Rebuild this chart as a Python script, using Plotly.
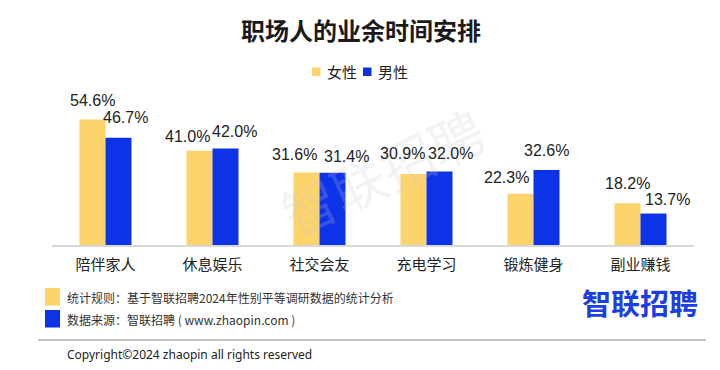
import plotly.graph_objects as go

# ---- data ----
categories = ["陪伴家人", "休息娱乐", "社交会友", "充电学习", "锻炼健身", "副业赚钱"]
female = [54.6, 41.0, 31.6, 30.9, 22.3, 18.2]
male = [46.7, 42.0, 31.4, 32.0, 32.6, 13.7]
series_names = ["女性", "男性"]

# ---- style ----
OFF = 8  # page body margin of the browser
W, H = 720 - OFF, 370 - OFF
L, R, T, B = 52 - OFF, 26, 100 - OFF, 125
PW, PH = W - L - R, H - T - B
PX_PER_UNIT = 2.297
YELLOW = "#FDD46B"
BLUE = "#0D33E8"
CJK = "Noto Sans CJK SC"
LAT = "Liberation Sans, Arial, sans-serif"

# label nudges (pixels) relative to bar centres
bar_half = 12.85
f_dx = [0, -12.5, -11.8, -11, -13.8, 0]
m_dx = [7.4, 9.6, 14.5, 11, 0, 14]
f_dy = [19.3, 14.3, 17.7, 20.3, 16.7, 19.3]
m_dy = [20, 16.7, 16.7, 18.3, 19.3, 14.3]


def px(x):
    return (x - OFF - L) / PW


def py(y):
    return (H - B - (y - OFF)) / PH


fig = go.Figure()
fig.add_bar(x=categories, y=female, name=series_names[0], marker_color=YELLOW,
            marker_line_width=0, showlegend=False)
fig.add_bar(x=categories, y=male, name=series_names[1], marker_color=BLUE,
            marker_line_width=0, showlegend=False)

ann = []
# watermark (drawn first, under the other texts)
ann.append(dict(x=px(382), y=py(170), xref="paper", yref="paper", showarrow=False,
                text="智联招聘", textangle=-25, xanchor="center", yanchor="middle",
                font=dict(family=CJK, size=54, color="rgba(200,200,200,0.22)")))
for i, c in enumerate(categories):
    ann.append(dict(x=c, y=female[i], xref="x", yref="y", text=f"{female[i]:.1f}%",
                    showarrow=False, xanchor="center", yanchor="middle",
                    xshift=-bar_half + f_dx[i], yshift=f_dy[i],
                    font=dict(family=LAT, size=16, color="#222")))
    ann.append(dict(x=c, y=male[i], xref="x", yref="y", text=f"{male[i]:.1f}%",
                    showarrow=False, xanchor="center", yanchor="middle",
                    xshift=bar_half + m_dx[i], yshift=m_dy[i],
                    font=dict(family=LAT, size=16, color="#222")))

# title
ann.append(dict(x=px(361), y=py(30), xref="paper", yref="paper", showarrow=False,
                text="<b>职场人的业余时间安排</b>", xanchor="center", yanchor="middle",
                font=dict(family=CJK, size=24, color="#1a1a1a")))
# legend texts
ann.append(dict(x=px(325), y=py(71.5), xref="paper", yref="paper", showarrow=False,
                text=series_names[0], xanchor="left", yanchor="middle",
                font=dict(family=CJK, size=15, color="#222")))
ann.append(dict(x=px(376), y=py(71.5), xref="paper", yref="paper", showarrow=False,
                text=series_names[1], xanchor="left", yanchor="middle",
                font=dict(family=CJK, size=15, color="#222")))
# footer
ann.append(dict(x=px(65), y=py(297), xref="paper", yref="paper", showarrow=False,
                text="统计规则：基于智联招聘2024年性别平等调研数据的统计分析",
                xanchor="left", yanchor="middle",
                font=dict(family=CJK, size=12, color="#333")))
ann.append(dict(x=px(65), y=py(319.5), xref="paper", yref="paper", showarrow=False,
                text="数据来源：智联招聘 ( www.zhaopin.com )",
                xanchor="left", yanchor="middle",
                font=dict(family=CJK, size=12, color="#333")))
ann.append(dict(x=px(640), y=py(301.5), xref="paper", yref="paper", showarrow=False,
                text="<b>智联招聘</b>", xanchor="center", yanchor="middle",
                font=dict(family=CJK, size=29, color="#1B3FE4")))
ann.append(dict(x=px(65), y=py(354), xref="paper", yref="paper", showarrow=False,
                text="Copyright©2024 zhaopin all rights reserved",
                xanchor="left", yanchor="middle",
                font=dict(family="Noto Sans, sans-serif", size=12, color="#222")))

shapes = [
    dict(type="rect", xref="paper", yref="paper", x0=px(312), x1=px(320.5),
         y0=py(76), y1=py(67.5), fillcolor=YELLOW, line_width=0),
    dict(type="rect", xref="paper", yref="paper", x0=px(363), x1=px(371.5),
         y0=py(76), y1=py(67.5), fillcolor=BLUE, line_width=0),
    dict(type="rect", xref="paper", yref="paper", x0=px(45), x1=px(60),
         y0=py(305.5), y1=py(288), fillcolor=YELLOW, line_width=0),
    dict(type="rect", xref="paper", yref="paper", x0=px(45), x1=px(60),
         y0=py(327.5), y1=py(310), fillcolor=BLUE, line_width=0),
    dict(type="line", xref="paper", yref="paper", x0=px(38), x1=px(706),
         y0=py(340), y1=py(340), line=dict(color="#8a8a8a", width=1)),
]

fig.update_layout(
    width=W, height=H,
    margin=dict(l=L, r=R, t=T, b=B),
    paper_bgcolor="white", plot_bgcolor="white",
    barmode="group", bargap=0.514, bargroupgap=0,
    annotations=ann, shapes=shapes,
    showlegend=False,
)
fig.update_xaxes(showline=True, linecolor="#d9d9d9", linewidth=1.5, ticks="",
                 showgrid=False, ticklabelstandoff=5,
                 tickfont=dict(family=CJK, size=15, color="#222"))
fig.update_yaxes(range=[0, PH / PX_PER_UNIT], visible=False, showgrid=False)

fig.write_html("out.html")
